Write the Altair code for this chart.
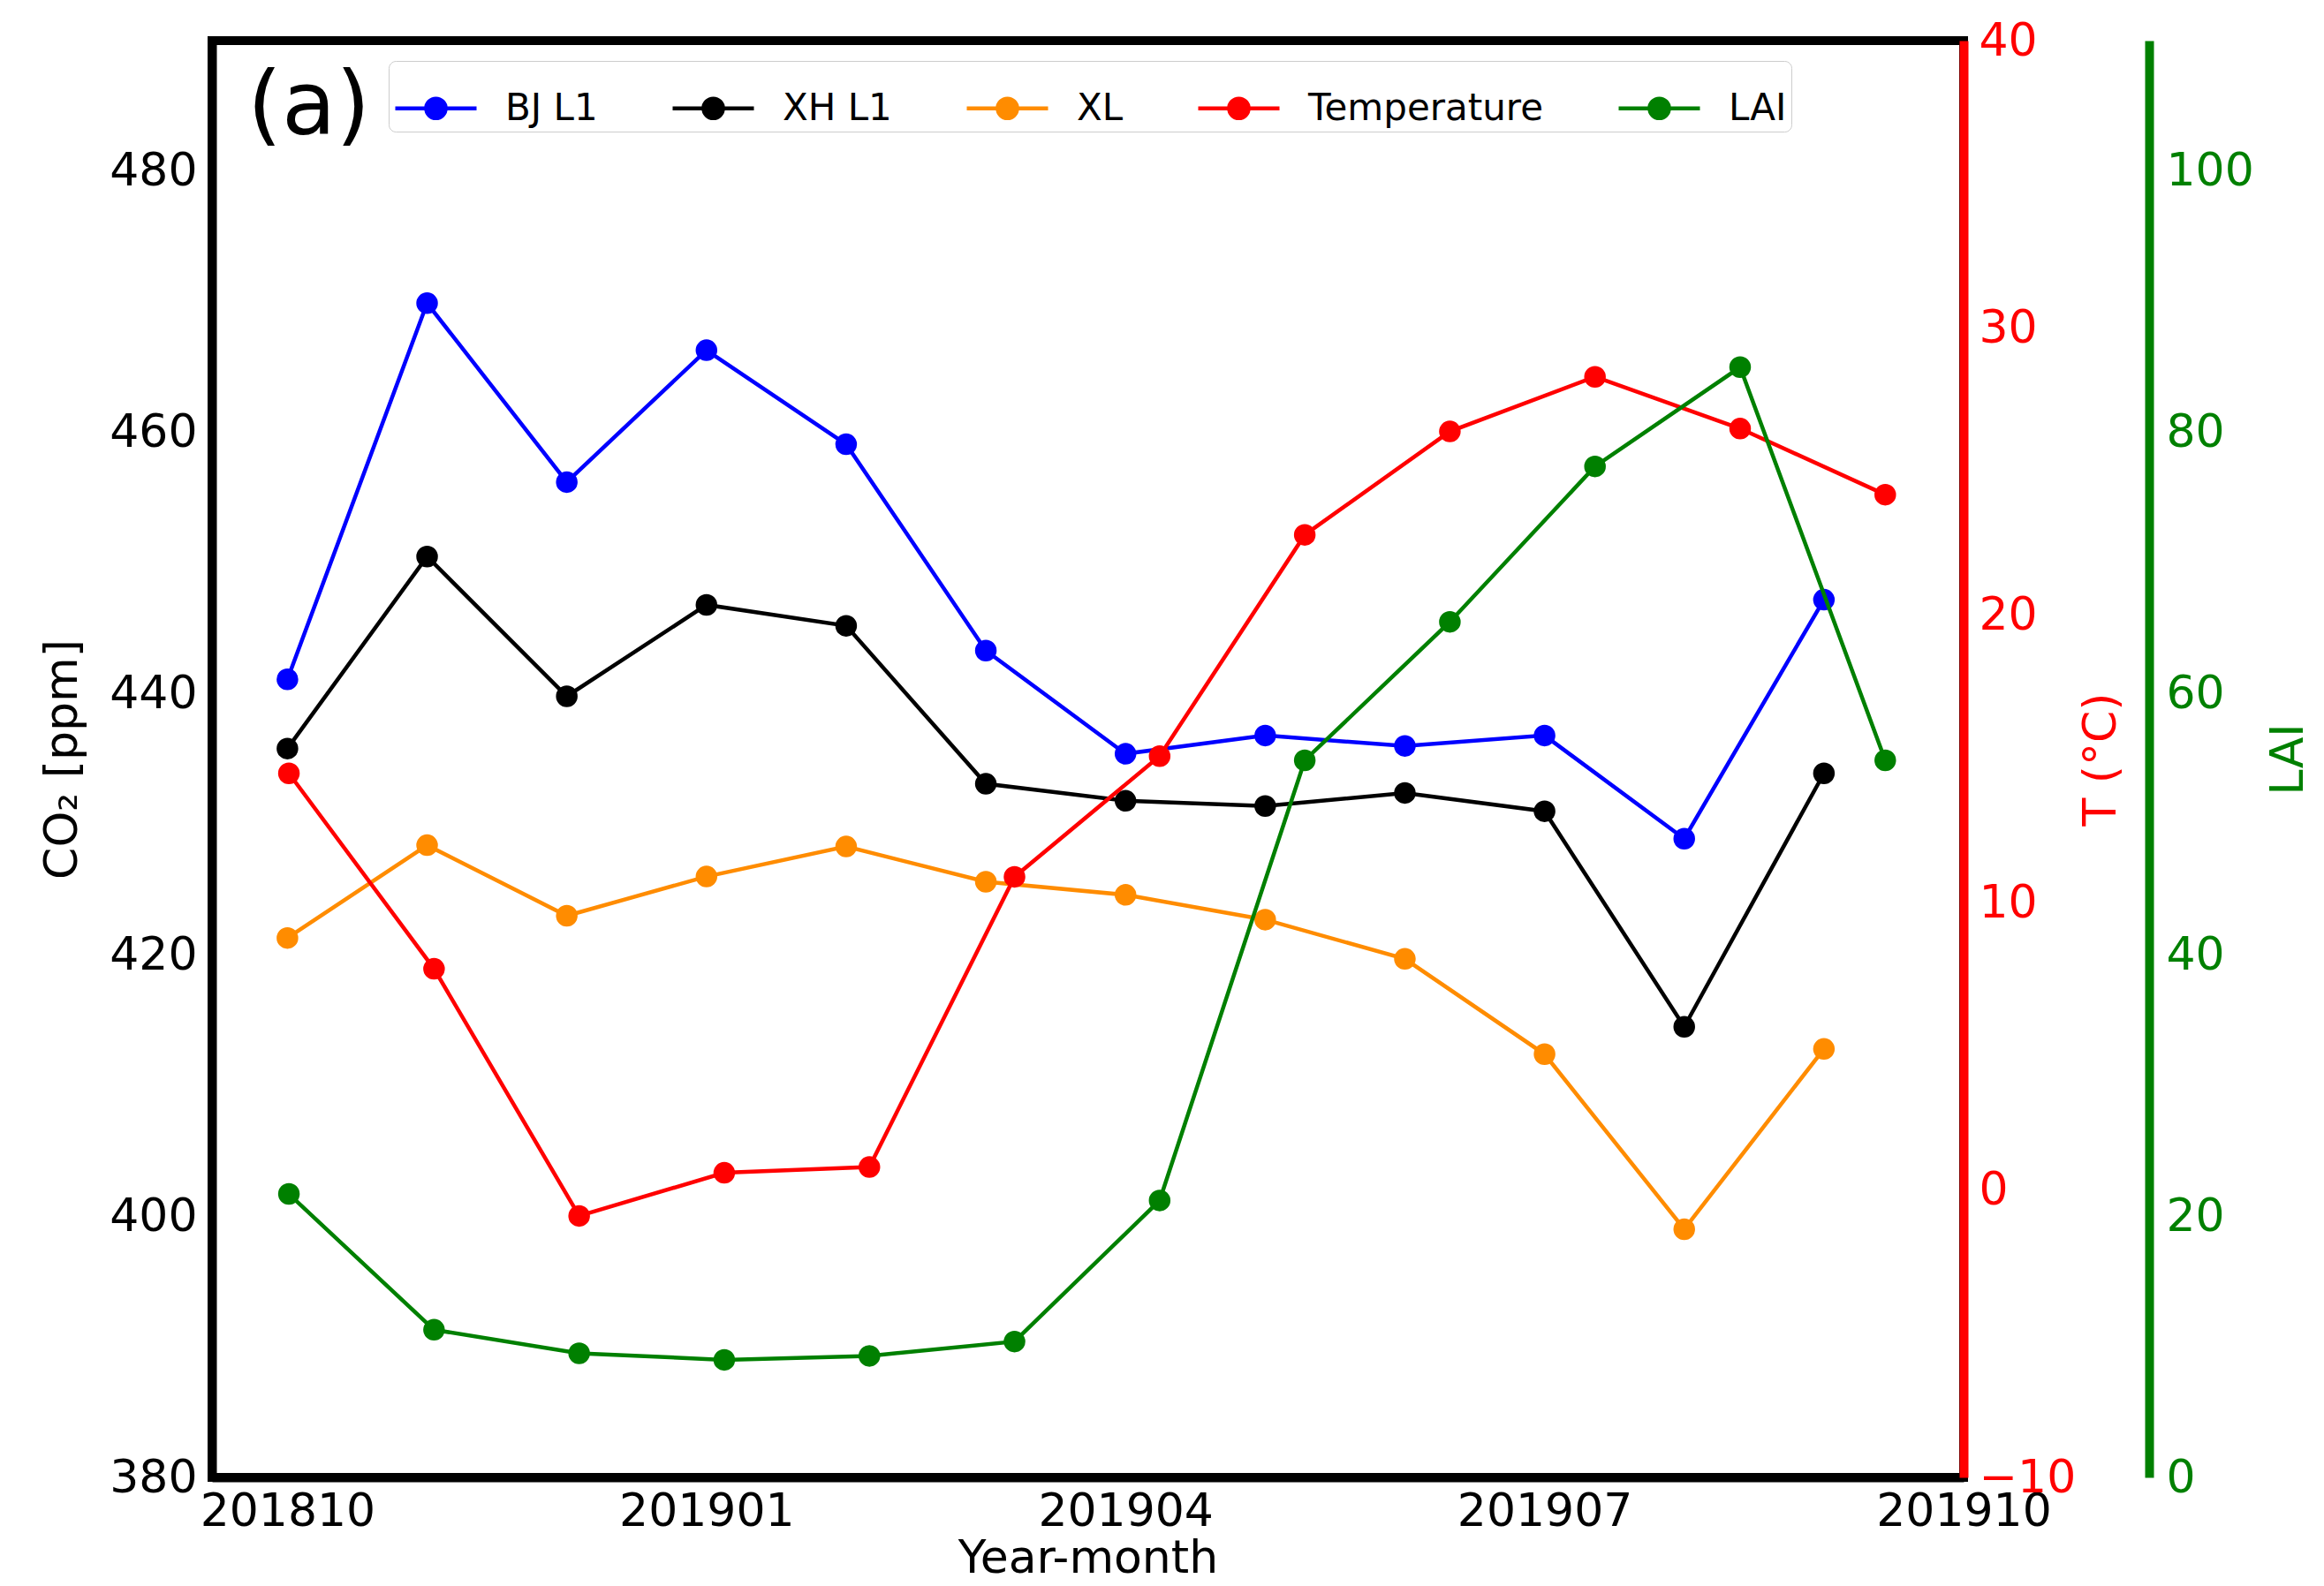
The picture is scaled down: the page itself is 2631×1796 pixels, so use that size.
import altair as alt
import pandas as pd

# ---- data ----
months = list(range(12))
bj_l1 = [441.1, 469.9, 456.2, 466.3, 459.1, 443.3, 435.4, 436.8, 436.0, 436.8, 428.9, 447.2]
xh_l1 = [435.8, 450.5, 439.8, 446.8, 445.2, 433.1, 431.8, 431.4, 432.4, 431.0, 414.5, 433.9]
xl = [421.3, 428.4, 423.0, 426.0, 428.3, 425.6, 424.6, 422.7, 419.7, 412.4, 399.0, 412.8]
temperature = [14.5, 7.7, -0.9, 0.6, 0.8, 10.9, 15.1, 22.8, 26.4, 28.3, 26.5, 24.2]
lai = [21.7, 11.3, 9.5, 9.0, 9.3, 10.4, 21.2, 54.9, 65.5, 77.4, 85.0, 54.9]

xtick_values = [0, 3, 6, 9, 12]
xtick_labels = ["201810", "201901", "201904", "201907", "201910"]
co2_ticks = [380, 400, 420, 440, 460, 480]
temp_ticks = [-10, 0, 10, 20, 30, 40]
lai_ticks = [0, 20, 40, 60, 80, 100]

series_names = ["BJ L1", "XH L1", "XL", "Temperature", "LAI"]
series_colors = ["#0000ff", "#000000", "#ff8c00", "#ff0000", "#008000"]
panel_label = ["(a)"]

# ---- tables ----
co2_rows = []
for name, vals in zip(series_names[:3], [bj_l1, xh_l1, xl]):
    for m, v in zip(months, vals):
        co2_rows.append({"m": m, "value": v, "series": name})
co2_df = pd.DataFrame(co2_rows)
temp_df = pd.DataFrame({"i": months, "value": temperature, "series": "Temperature"})
lai_df = pd.DataFrame({"i": months, "value": lai, "series": "LAI"})
label_df = pd.DataFrame({"t": panel_label})

FONT = "DejaVu Sans"
LBL = 52
TTL = 52
LW = 4.5
MS = 600

x_label_expr = " : ".join(
    f"datum.value == {v} ? '{l}'" for v, l in zip(xtick_values, xtick_labels)
) + " : ''"

sym_path = ("M-1,0L1,0M-0.24,0A0.24,0.24,0,1,1,0.24,0"
            "A0.24,0.24,0,1,1,-0.24,0Z")

legend = alt.Legend(
    title=None, orient="none", legendX=200, legendY=23,
    direction="horizontal", columns=5,
    symbolType=sym_path, symbolSize=8464, symbolStrokeWidth=LW,
    labelFont=FONT, labelFontSize=42, labelColor="black", labelOffset=30,
    labelLimit=0, columnPadding=75, padding=5, strokeColor="#cccccc",
    fillColor="white", cornerRadius=8, symbolOpacity=1,
)

color = alt.Color("series:N",
                  scale=alt.Scale(domain=series_names, range=series_colors),
                  legend=legend)

# ---- CO2 layer ----
co2_base = alt.Chart(co2_df).encode(
    x=alt.X("m:Q",
            scale=alt.Scale(domain=[-0.54, 12.0], nice=False, zero=False),
            axis=alt.Axis(values=xtick_values, labelExpr=x_label_expr,
                          title="Year-month", ticks=False, labelPadding=13,
                          titlePadding=2, grid=False, domainColor="black",
                          domainWidth=10, labelOverlap=False, labelFlush=False,
                          labelBound=False)),
    y=alt.Y("value:Q",
            scale=alt.Scale(domain=[380, 490], nice=False, zero=False),
            axis=alt.Axis(values=co2_ticks, title="CO\u2082 [ppm]", ticks=False,
                          labelPadding=17, titlePadding=26, grid=False,
                          domainColor="black", domainWidth=10)),
    color=color,
    detail="series:N",
)
co2_layer = alt.layer(
    co2_base.mark_line(strokeWidth=LW),
    co2_base.mark_point(filled=True, size=MS, opacity=1),
)

# ---- Temperature layer ----
tx = alt.X("i:Q", scale=alt.Scale(domain=[-0.53, 11.54], nice=False, zero=False),
           axis=None)
temp_base = alt.Chart(temp_df).encode(
    x=tx,
    y=alt.Y("value:Q",
            scale=alt.Scale(domain=[-10, 40], nice=False, zero=False),
            axis=alt.Axis(orient="right", values=temp_ticks, title="T (\u00b0C)",
                          ticks=False, labelPadding=17, titlePadding=4,
                          titleAngle=270, titleBaseline="top", grid=False,
                          domainColor="#ff0000", domainWidth=10,
                          labelColor="#ff0000", titleColor="#ff0000",
                          labelExpr="replace(datum.label, '-', '\u2212')")),
    color=color,
)
temp_layer = alt.layer(
    temp_base.mark_line(strokeWidth=LW),
    temp_base.mark_point(filled=True, size=MS, opacity=1),
)

# ---- LAI layer ----
lai_base = alt.Chart(lai_df).encode(
    x=tx,
    y=alt.Y("value:Q",
            scale=alt.Scale(domain=[0, 110], nice=False, zero=False),
            axis=alt.Axis(orient="right", offset=210, values=lai_ticks, title="LAI",
                          ticks=False, labelPadding=19, titlePadding=14,
                          titleAngle=270, titleBaseline="top", grid=False,
                          domainColor="#008000", domainWidth=10,
                          labelColor="#008000", titleColor="#008000")),
    color=color,
)
lai_layer = alt.layer(
    lai_base.mark_line(strokeWidth=LW),
    lai_base.mark_point(filled=True, size=MS, opacity=1),
)

text_layer = alt.Chart(label_df).mark_text(
    align="left", baseline="alphabetic", fontSize=100, font=FONT, color="black"
).encode(text="t:N", x=alt.value(40), y=alt.value(106))

chart = alt.layer(co2_layer, temp_layer, lai_layer, text_layer).resolve_scale(
    x="independent", y="independent", color="shared"
).properties(
    width=1983, height=1627,
    padding={"left": 232, "top": 38, "right": 398, "bottom": 120},
    autosize=alt.AutoSizeParams(type="none"),
    background="white",
).configure_view(
    stroke="black", strokeWidth=10
).configure_axis(
    labelFont=FONT, titleFont=FONT, labelFontSize=LBL, titleFontSize=TTL,
    titleFontWeight="normal", labelColor="black", titleColor="black",
    labelLimit=0,
)

chart.save("out.html", embed_options={"renderer": "svg", "actions": False})
